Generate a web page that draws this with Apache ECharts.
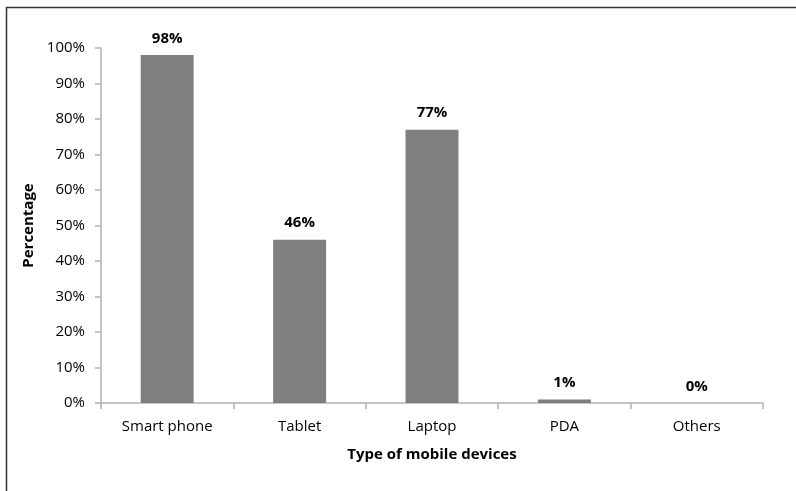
<!DOCTYPE html>
<html>
<head>
<meta charset="utf-8">
<script src="https://cdn.jsdelivr.net/npm/echarts@6/dist/echarts.min.js"></script>
<style>
  html, body { margin: 0; padding: 0; background: #fff; }
  #chart { width: 796px; height: 491px; }
</style>
</head>
<body>
<div id="chart"></div>
<script>
// Device types and share of respondents using each
const categories = ['Smart phone', 'Tablet', 'Laptop', 'PDA', 'Others'];
const percentages = [98, 46, 77, 1, 0];
const yTicks = { min: 0, max: 100, interval: 10 };

const FONT = '"Open Sans", "Liberation Sans", sans-serif';
const chart = echarts.init(document.getElementById('chart'), null, { renderer: 'canvas' });

chart.setOption({
  animation: false,
  backgroundColor: '#ffffff',
  graphic: [{
    type: 'rect',
    left: 4, top: 5,
    shape: { width: 820, height: 520 },
    style: { fill: 'none', stroke: '#333333', lineWidth: 1.5 },
    silent: true
  }],
  grid: { left: 101, right: 33, top: 48, bottom: 88, containLabel: false },
  xAxis: {
    type: 'category',
    data: categories,
    name: 'Type of mobile devices',
    nameLocation: 'middle',
    nameGap: 44,
    nameTextStyle: { fontFamily: FONT, fontSize: 15, fontWeight: 'bold', color: '#000' },
    axisLine: { lineStyle: { color: '#b3b3b3', width: 1.5 } },
    axisTick: { show: true, alignWithLabel: false, length: 6, lineStyle: { color: '#b3b3b3', width: 1.5 } },
    axisLabel: { fontFamily: FONT, fontSize: 15, color: '#000', margin: 16 }
  },
  yAxis: {
    type: 'value',
    min: yTicks.min, max: yTicks.max, interval: yTicks.interval,
    name: 'Percentage',
    nameLocation: 'middle',
    nameGap: 63,
    nameTextStyle: { fontFamily: FONT, fontSize: 15, fontWeight: 'bold', color: '#000' },
    axisLine: { show: true, lineStyle: { color: '#b3b3b3', width: 1.5 } },
    axisTick: { show: true, length: 6, lineStyle: { color: '#b3b3b3', width: 1.5 } },
    splitLine: { show: false },
    axisLabel: { fontFamily: FONT, fontSize: 15, color: '#000', margin: 16, formatter: '{value}%' }
  },
  series: [{
    type: 'bar',
    data: percentages,
    barWidth: '40%',
    itemStyle: { color: '#7f7f82' },
    label: {
      show: true,
      position: 'top',
      distance: 9,
      formatter: '{c}%',
      fontFamily: FONT, fontSize: 15, fontWeight: 'bold', color: '#000'
    }
  }]
});
</script>
</body>
</html>
